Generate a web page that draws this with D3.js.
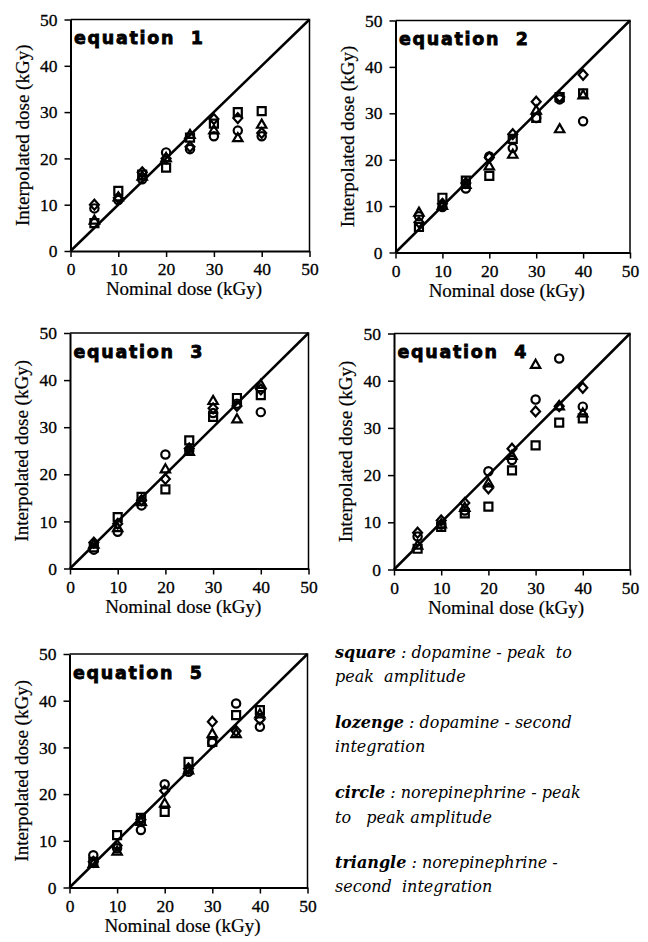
<!DOCTYPE html>
<html>
<head>
<meta charset="utf-8">
<script src="https://cdn.jsdelivr.net/npm/d3@7"></script>
<style>
  body { margin: 0; background: #fff; }
  svg { display: block; }
  .tick text { font-family: "Liberation Serif", "Times New Roman", serif; font-size: 17.5px; fill: #000; stroke: #000; stroke-width: 0.3px; }
  .axis-title { font-family: "Liberation Serif", "Times New Roman", serif; font-size: 19px; fill: #000; stroke: #000; stroke-width: 0.2px; }
  .eq-title { font-family: "DejaVu Sans", sans-serif; font-weight: bold; font-size: 17.5px; fill: #000; stroke: #000; stroke-width: 0.8px; white-space: pre; }
  .legend { font-family: "DejaVu Serif", serif; font-style: italic; font-size: 16px; fill: #000; white-space: pre; }
</style>
</head>
<body>
<div id="chart"></div>
<script>
// nominal doses (x) shared by every panel
const doses = [5, 10, 15, 20, 25, 30, 35, 40];
const tickVals = [0, 10, 20, 30, 40, 50];

// interpolated dose, one array per marker per equation
const eq1Square   = [6, 13, 16.5, 18, 24.5, 27.5, 30, 30.2];
const eq1Lozenge  = [10, 11.5, 17, 20, 22.5, 28.5, 28.7, 25.5];
const eq1Circle   = [9.2, 11, 15.5, 21.3, 22, 24.8, 26, 24.8];
const eq1Triangle = [6.5, 11.5, 16, 20, 25, 26, 24.3, 27.2];

const eq2Square   = [5.5, 11.8, 15.5, 16.5, 24.5, 29, 33.5, 34.3];
const eq2Lozenge  = [6.5, 10.5, 15, 20.5, 25.5, 32.5, 33.5, 38.3];
const eq2Circle   = [7.8, 9.8, 13.8, 20.7, 22.5, 29, 33, 28.3];
const eq2Triangle = [8.5, 10, 14.5, 18.5, 21, 30.5, 26.5, 33.8];

const eq3Square   = [4.5, 10.9, 15.2, 16.8, 27.2, 32.2, 36.2, 36.8];
const eq3Lozenge  = [5.5, 9.5, 14.5, 19, 25.5, 34, 34.5, 38];
const eq3Circle   = [4, 7.8, 13.4, 24.2, 25, 33, 35, 33.2];
const eq3Triangle = [5, 8.5, 14, 21, 24.7, 35.5, 31.6, 38.9];

const eq4Square   = [4.4, 9, 11.9, 13.3, 21, 26.3, 31.1, 32];
const eq4Lozenge  = [7.8, 10.4, 14.1, 17.2, 25.6, 33.5, 34.6, 38.5];
const eq4Circle   = [7, 9.5, 12.5, 20.8, 23.2, 36, 44.7, 34.5];
const eq4Triangle = [5, 9.5, 13, 18.2, 24, 43.3, 34.5, 33];

const eq5Square   = [5.5, 11.2, 14.9, 16.2, 26.9, 31.2, 36.9, 38];
const eq5Lozenge  = [5.5, 9, 14.5, 20.7, 25.5, 35.5, 33.5, 36];
const eq5Circle   = [6.9, 8.4, 12.3, 22.1, 24.8, 31, 39.4, 34.4];
const eq5Triangle = [5, 7.6, 14, 17.9, 25, 32.8, 32.8, 37];

const legendLines = [
  ["square", " : dopamine - peak  to"],
  ["", "peak  amplitude"],
  null,
  ["lozenge", " : dopamine - second"],
  ["", "integration"],
  null,
  ["circle", " : norepinephrine - peak"],
  ["", "to   peak amplitude"],
  null,
  ["triangle", " : norepinephrine -"],
  ["", "second  integration"]
];

// panel frames (pixel box of each plot area)
const panels = [
  { name: "equation  1", x0: 70.5, x1: 309.5, y0: 251, y1: 19.5,
    series: [eq1Square, eq1Lozenge, eq1Circle, eq1Triangle] },
  { name: "equation  2", x0: 395.5, x1: 630, y0: 252.5, y1: 20.5,
    series: [eq2Square, eq2Lozenge, eq2Circle, eq2Triangle] },
  { name: "equation  3", x0: 70, x1: 308.5, y0: 568.5, y1: 333,
    series: [eq3Square, eq3Lozenge, eq3Circle, eq3Triangle] },
  { name: "equation  4", x0: 394, x1: 630, y0: 569.5, y1: 333.5,
    series: [eq4Square, eq4Lozenge, eq4Circle, eq4Triangle] },
  { name: "equation  5", x0: 69.5, x1: 307.5, y0: 887.5, y1: 654,
    series: [eq5Square, eq5Lozenge, eq5Circle, eq5Triangle] }
];

// lozenge drawn a bit wider than d3's diamond
const symbolLozenge = {
  draw(ctx, size) {
    const h = Math.sqrt(size) * 0.62, w = h * 0.9;
    ctx.moveTo(0, -h); ctx.lineTo(w, 0); ctx.lineTo(0, h); ctx.lineTo(-w, 0); ctx.closePath();
  }
};
const shapes = [
  d3.symbol().type(d3.symbolSquare).size(64),
  d3.symbol().type(symbolLozenge).size(64),
  d3.symbol().type(d3.symbolCircle).size(54),
  d3.symbol().type(d3.symbolTriangle).size(38)
];

const svg = d3.select("#chart").append("svg")
  .attr("width", 648)
  .attr("height", 942);

panels.forEach(p => {
  const x = d3.scaleLinear().domain([0, 50]).range([p.x0, p.x1]);
  const y = d3.scaleLinear().domain([0, 50]).range([p.y0, p.y1]);
  const g = svg.append("g");

  // frame top / right
  g.append("path")
    .attr("d", `M${x(0)},${y(50)}H${x(50)}V${y(0)}`)
    .attr("fill", "none")
    .attr("stroke", "#000")
    .attr("stroke-width", 1.5);

  const xAxis = g.append("g")
    .attr("transform", `translate(0,${p.y0})`)
    .call(d3.axisBottom(x).tickValues(tickVals).tickSize(6).tickPadding(6).tickSizeOuter(0));
  const yAxis = g.append("g")
    .attr("transform", `translate(${p.x0},0)`)
    .call(d3.axisLeft(y).tickValues(tickVals).tickSize(6).tickPadding(7).tickSizeOuter(0));
  [xAxis, yAxis].forEach(a => {
    a.select(".domain").attr("stroke-width", 2);
    a.selectAll(".tick line").attr("stroke-width", 1.5);
  });

  // identity line
  g.append("line")
    .attr("x1", x(0)).attr("y1", y(0))
    .attr("x2", x(50)).attr("y2", y(50))
    .attr("stroke", "#000")
    .attr("stroke-width", 2.5);

  p.series.forEach((vals, si) => {
    g.selectAll(null)
      .data(vals)
      .enter()
      .append("path")
      .attr("transform", (d, i) => `translate(${x(doses[i])},${y(d)})`)
      .attr("d", shapes[si])
      .attr("fill", "none")
      .attr("stroke", "#000")
      .attr("stroke-width", 2.2);
  });

  g.append("text")
    .attr("class", "eq-title")
    .attr("x", p.x0 + 3.5)
    .attr("y", p.y1 + 24.5)
    .attr("textLength", 129)
    .attr("lengthAdjust", "spacing")
    .text(p.name);

  g.append("text")
    .attr("class", "axis-title")
    .attr("x", (p.x0 + p.x1) / 2 - 6)
    .attr("y", p.y0 + 44)
    .attr("text-anchor", "middle")
    .text("Nominal dose (kGy)");

  g.append("text")
    .attr("class", "axis-title")
    .attr("transform", `translate(${p.x0 - 42},${(p.y0 + p.y1) / 2}) rotate(-90)`)
    .attr("text-anchor", "middle")
    .text("Interpolated dose (kGy)");
});

// legend text
const legend = svg.append("g").attr("transform", "translate(335,0)");
const lineY = [658, 682, 0, 728, 752, 0, 798, 823, 0, 868, 892];
legendLines.forEach((ln, i) => {
  if (!ln) return;
  const t = legend.append("text").attr("class", "legend").attr("y", lineY[i]);
  if (ln[0]) t.append("tspan").attr("font-weight", "bold").text(ln[0]);
  t.append("tspan").text(ln[1]);
});
</script>
</body>
</html>
